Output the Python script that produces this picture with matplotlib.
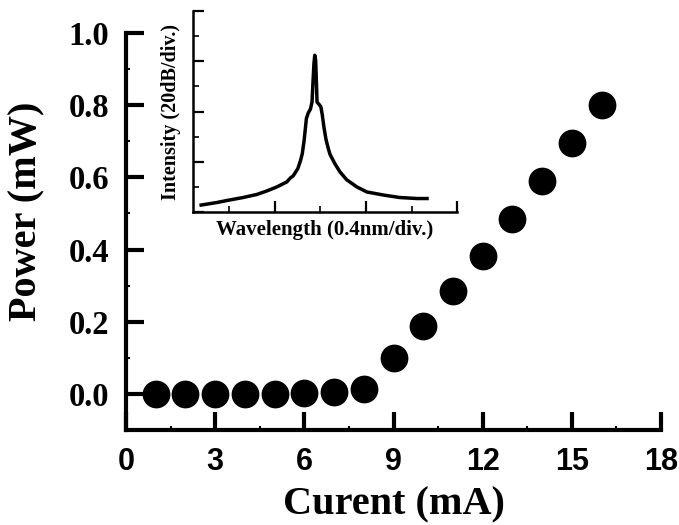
import matplotlib
matplotlib.use("Agg")
import matplotlib.pyplot as plt
from matplotlib.ticker import MultipleLocator

# Main data: L-I curve
current_mA = [1, 2, 3, 4, 5, 6, 7, 8, 9, 10, 11, 12, 13, 14, 15, 16]
power_mW = [0.0, 0.0, 0.0, 0.0, 0.0, 0.002, 0.004, 0.014, 0.10, 0.187, 0.284, 0.381,
            0.484, 0.589, 0.694, 0.802]

# Inset spectrum (divisions)
wl_div = [0.19, 0.36, 0.50, 0.65, 0.80, 0.91, 1.02, 1.13, 1.17, 1.20, 1.25, 1.28, 1.30,
          1.32, 1.335, 1.345, 1.365, 1.39, 1.407, 1.418, 1.428, 1.437, 1.447, 1.455,
          1.462, 1.49, 1.505, 1.52, 1.538, 1.56, 1.582, 1.604, 1.659, 1.714, 1.77, 1.79,
          1.90, 2.01, 2.19, 2.37, 2.56, 2.67]
int_div = [0.14, 0.19, 0.24, 0.29, 0.35, 0.42, 0.50, 0.60, 0.68, 0.72, 0.86, 1.02, 1.16,
           1.42, 1.68, 1.86, 1.97, 2.05, 2.19, 2.6, 2.95, 3.12, 3.02, 2.6,
           2.19, 2.13, 2.09, 1.93, 1.69, 1.45, 1.29, 1.15, 0.96, 0.80, 0.68, 0.64,
           0.50, 0.40, 0.34, 0.29, 0.27, 0.27]

serif = ["Liberation Serif", "DejaVu Serif"]
sans = ["Liberation Sans", "DejaVu Sans"]

fig = plt.figure(figsize=(6.79, 5.25), dpi=100)
ax = fig.add_axes([0.1856, 0.181, 0.788, 0.756])

ax.plot(current_mA, power_mW, "o", color="black", markersize=19, clip_on=False, zorder=3)
ax.set_xlim(0, 18)
ax.set_ylim(-0.1, 1.0)
for s in ["top", "right"]:
    ax.spines[s].set_visible(False)
for s in ["left", "bottom"]:
    ax.spines[s].set_linewidth(3)

ax.xaxis.set_major_locator(MultipleLocator(3))
ax.xaxis.set_minor_locator(MultipleLocator(1.5))
ax.yaxis.set_minor_locator(MultipleLocator(0.1))
ax.tick_params(axis="both", which="major", direction="in", length=13, width=3)
ax.tick_params(axis="both", which="minor", direction="in", length=3, width=1.5)
ax.tick_params(axis="x", which="major", pad=12)
ax.tick_params(axis="y", which="major", pad=12)
ax.set_yticks([0.0, 0.2, 0.4, 0.6, 0.8, 1.0])
ax.set_yticklabels(["0.0", "0.2", "0.4", "0.6", "0.8", "1.0"])
for lab in ax.get_xticklabels():
    lab.set_fontfamily(sans)
    lab.set_fontweight("bold")
    lab.set_fontsize(22)
for lab in ax.get_yticklabels():
    lab.set_fontfamily(serif)
    lab.set_fontweight("bold")
    lab.set_fontsize(23.5)

ax.set_xlabel("Curent (mA)", family=serif, fontweight="bold", fontsize=29, labelpad=7)
ax.set_ylabel("Power (mW)", family=serif, fontweight="bold", fontsize=29)
ax.yaxis.set_label_coords(-0.15, 0.55)

# Inset
ins = fig.add_axes([0.2842, 0.596, 0.389, 0.383])
ins.plot(wl_div, int_div, color="black", linewidth=2.5)
ins.set_xlim(0.1, 3.0)
ins.set_ylim(0, 4)
for s in ["top", "right"]:
    ins.spines[s].set_visible(False)
for s in ["left", "bottom"]:
    ins.spines[s].set_linewidth(1.8)
ins.xaxis.set_major_locator(MultipleLocator(1))
ins.xaxis.set_minor_locator(MultipleLocator(0.5))
ins.yaxis.set_major_locator(MultipleLocator(1))
ins.yaxis.set_minor_locator(MultipleLocator(0.5))
ins.tick_params(axis="both", which="major", direction="in", length=8, width=1.6,
                labelbottom=False, labelleft=False)
ins.tick_params(axis="both", which="minor", direction="in", length=4, width=1.2)
ins.set_xlabel("Wavelength (0.4nm/div.)", family=serif, fontweight="bold", fontsize=15,
               labelpad=2)
ins.set_ylabel("Intensity (20dB/div.)", family=serif, fontweight="bold", fontsize=14.5,
               labelpad=5)

fig.savefig("out.png", dpi=100)
